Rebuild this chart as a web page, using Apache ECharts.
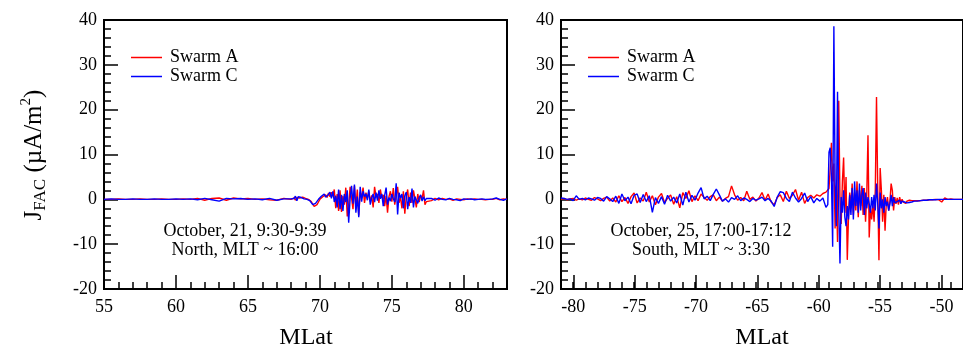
<!DOCTYPE html>
<html><head><meta charset="utf-8">
<script src="https://cdn.jsdelivr.net/npm/echarts@6/dist/echarts.min.js"></script>
<style>html,body{margin:0;padding:0;background:#fff}#c{width:963px;height:347px}</style>
</head><body><div id="c"></div>
<script>
// ---- North pass (October 21) ----
const northLat = [
 55,55.5,56,56.5,57,57.5,58,58.5,59,59.5,60,60.5,61,61.5,62,62.5,63,63.5,64,64.5,65,65.5,66,66.5,67,67.5,68,
 68.1,68.2,68.3,68.4,68.5,68.6,68.7,68.8,68.9,69.0,
 69.1,69.2,69.3,69.4,69.5,69.6,69.7,69.8,69.9,70.0,
 70.1,70.2,70.3,70.4,70.5,70.6,70.7,70.8,70.9,71.0,
 71.1,71.2,71.3,71.4,71.5,71.6,71.7,71.8,71.9,72.0,
 72.1,72.2,72.3,72.4,72.5,72.6,72.7,72.8,72.9,73.0,
 73.1,73.2,73.3,73.4,73.5,73.6,73.7,73.8,73.9,74.0,
 74.1,74.2,74.3,74.4,74.5,74.6,74.7,74.8,74.9,75.0,
 75.1,75.2,75.3,75.4,75.5,75.6,75.7,75.8,75.9,76.0,
 76.1,76.2,76.3,76.4,76.5,76.6,76.7,76.8,76.9,77.0,
 77.1,77.2,77.3,77.4,77.5,
 77.75,78,78.25,78.5,78.75,79,79.25,79.5,79.75,80,80.25,80.5,80.75,81,81.25,81.5,81.75,82,82.25,82.5,82.75,83
];
const northA = [
 0,0,0.1,0,0,0.1,0,0,0.1,0,0,0.1,0,0.2,-0.2,0.2,0.3,-0.2,0.3,0.1,0.2,0,0.1,-0.1,-0.2,0.2,0,
 0.1,0.3,-0.2,0.4,0.1,0.3,0.2,0.5,0.3,0.2,
 0.1,0,-0.2,-0.5,-0.9,-1.6,-1.9,-1.2,-0.6,0,
 0.3,0.6,0.8,1.0,0.4,1.4,0.6,1.6,0.7,2.2,
 -2.0,1.2,-2.6,2.0,-2.8,0.8,-1.2,2.6,-3.8,-1.2,
 2.8,0.3,-2.2,3.0,-1.8,2.2,-3.6,1.6,0.4,2.6,
 -0.8,1.5,0.2,1.8,-0.5,0.9,-1.8,2.8,0.5,1.2,
 -0.8,2.2,0.3,1.0,-1.5,0.8,-3.0,0.6,1.8,-0.5,
 2.5,-1.2,0.8,2.8,-0.8,0.5,-2.0,1.8,-3.2,0.6,
 2.2,-1.5,1.5,-0.8,2.0,0.2,-1.8,1.2,-0.6,0.8,
 0.2,2.0,-1.2,-0.5,-0.2,
 -0.3,0.2,-0.1,0.2,0,0.1,-0.2,0.1,0,-0.1,0.1,0,0.1,0,0,-0.1,0,0,0.2,-0.1,0.1,0
];
const northC = [
 0,0.1,0,0,0.1,0,0,0.1,0,0,0.1,0,0.1,-0.1,0.2,-0.1,-0.4,0.2,0.1,0.2,0,0.1,-0.1,0.2,-0.2,0.1,0.1,
 0,0.2,0.7,-0.3,0.6,0.2,0.4,0.3,0.1,0.3,
 0,-0.1,-0.3,-0.6,-1.2,-1.3,-0.9,-0.5,0,0.4,
 0.7,0.9,1.2,0.5,0.8,1.1,1.6,0.2,1.8,-0.6,
 0.8,-1.8,2.2,-2.2,1.0,-2.6,1.2,-0.6,2.0,-5.2,
 0.2,3.0,-1.0,3.3,-3.0,0.6,-4.0,2.8,-0.5,1.8,
 0.6,1.2,-0.2,2.2,-1.2,0.3,1.2,-0.6,1.5,-0.3,
 2.0,0.1,1.2,-1.5,0.9,2.6,-1.2,0.4,-0.4,1.2,
 0.2,-0.6,3.6,-3.4,1.5,0.3,1.2,-2.0,0.8,1.6,
 -2.2,0.5,-0.8,2.4,-1.8,0.6,1.0,-0.9,0.4,1.0,
 -0.4,0.6,-0.3,0.2,0,
 0.2,-0.2,0.3,0,-0.1,0.2,0,-0.1,-0.3,0.1,0,0.1,-0.1,0,0.1,0,0,0.1,0.3,0,-0.2,0.1
];

// ---- South pass (October 25) ----
const southLat = [
 -81,-80.75,-80.5,-80.25,-80,-79.75,-79.5,-79.25,
 -79,-78.75,-78.5,-78.25,-78,-77.75,-77.5,-77.25,
 -77,-76.75,-76.5,-76.25,-76,-75.75,-75.5,-75.25,
 -75,-74.75,-74.5,-74.25,-74,-73.75,-73.5,-73.25,
 -73,-72.75,-72.5,-72.25,-72,-71.75,-71.5,-71.25,
 -71,-70.75,-70.5,-70.25,-70,-69.75,-69.5,-69.25,
 -69,-68.75,-68.5,-68.25,-68,-67.75,-67.5,-67.25,
 -67,-66.75,-66.5,-66.25,-66,-65.75,-65.5,-65.25,
 -65,-64.75,-64.5,-64.25,-64,-63.75,-63.5,-63.25,
 -63,-62.75,-62.5,-62.25,-62,-61.75,-61.5,-61.25,
 -61,-60.75,-60.5,-60.25,-60,-59.75,-59.5,-59.25,
 -59.1,-59.0,-58.9,-58.8,-58.7,-58.6,-58.5,-58.4,-58.3,-58.2,
 -58.1,-58.0,-57.9,-57.8,-57.7,-57.6,-57.5,-57.4,-57.3,-57.2,
 -57.1,-57.0,-56.9,-56.8,-56.7,-56.6,-56.5,-56.4,-56.3,-56.2,
 -56.1,-56.0,-55.9,-55.8,-55.7,-55.6,-55.5,-55.4,-55.3,-55.2,
 -55.1,-55.0,-54.9,-54.8,-54.7,-54.6,-54.5,-54.4,-54.3,-54.2,
 -54.1,-54.0,-53.9,-53.8,-53.7,-53.6,-53.5,-53.4,-53.3,-53.2,
 -53.1,-53.0,-52.9,-52.8,-52.7,-52.6,-52.5,-52.4,-52.3,-52.2,
 -52.1,-52.0,
 -51.75,-51.5,-51.25,-51,-50.75,-50.5,-50.25,-50,-49.75,-49.5,-49.25,-49,-48.75,-48.5,-48.25,-48
];
const southA = [
 0,0.2,-0.1,0.1,0.2,-0.2,0.1,-0.1,
 0.3,0,-0.2,0.4,0.1,-0.3,0.2,0.5,
 -0.4,0.3,-0.6,0.8,-0.5,0.4,-0.9,0.6,
 1.4,-0.8,0.3,-0.4,1.6,-0.6,0.8,-1.2,
 0.5,1.3,-0.7,0.2,1.0,-1.1,0.6,-1.9,
 1.5,0.2,1.9,-0.5,0.8,-0.3,1.2,0.4,
 -0.2,0.6,1.0,-0.3,0.5,-0.4,0.2,0.6,
 3.0,1.0,-0.2,0.4,-0.3,1.8,0,0.5,
 -0.4,0.3,1.5,-0.2,1.2,-0.6,-1.2,0.4,
 1.0,-0.5,1.8,0.2,0.9,2.2,-0.2,1.6,
 -0.9,0.4,0.9,0.3,1.0,0.7,1.3,1.6,
 1.8,2.4,7,12.6,4,8,-6.5,3,-9.5,22,
 0.5,-5.5,4,9.3,-3,5,-13.5,-4,1.5,-2,
 3.5,-3.5,1.5,-2.5,4,-4,2,-1.5,3,-3.5,
 2.5,-5,1,14.3,-8.5,-2,-4.5,-1,-5,2,
 22.8,2,-13.6,7,2,-5,1,-7,-1,0.5,
 -2.5,-0.5,3.5,2,-2.5,0.5,-1,0.3,-1.2,0.5,
 -0.8,0,-0.6,-0.2,-0.9,-0.4,-0.7,-0.2,-0.6,-0.3,
 -0.5,-0.3,
 -0.3,-0.3,-0.2,-0.2,-0.1,-0.1,0,-0.1,-0.6,0.3,0,0.1,0,0,0,0
];
const southC = [
 0.3,0.2,0,0.1,-0.3,0.8,0,0.2,
 -0.1,0.3,0.1,-0.2,0.4,0.2,-0.4,0.6,
 0.1,-0.5,0.7,-0.9,1.2,-0.3,0.5,-1.0,
 0.9,1.2,-0.7,1.1,-0.5,0.8,-2.9,0.4,
 -0.9,0.6,-1.1,0.9,-0.4,0.5,-0.8,1.2,
 -1.3,1.6,-0.6,0.9,-0.2,1.4,2.6,0.1,
 0.7,-0.3,1.1,2.3,1.0,-0.4,0.1,-0.6,
 0.4,0,0.8,-0.3,0.3,0,-0.5,0.2,
 -0.2,0.1,0.5,-0.3,0.2,-0.4,-1.6,0.5,
 1.7,1.5,0.2,-0.5,1.6,0.3,-0.6,0.2,
 1.4,-0.5,0.6,-0.8,0.2,-0.4,0.3,-1.8,
 -1.2,10.5,11.5,5,-10.6,38.6,4,-6,24,-2,
 -14.3,0.5,-3,2,-4,-6,-1.5,-4.5,1,-3.5,
 2.5,-4.5,4,-1.5,2,-3,3.5,-2.5,1,2.5,
 -3.5,1.5,-2,0.5,-1,-3,0.5,-2,1,-2.5,
 3.5,-1,-6.5,1.5,-2,0,-3,0.5,-1.5,-0.5,
 -2.5,-1,1,-1.5,0.5,-0.8,-1.2,-0.5,-0.9,-0.2,
 -1,-0.4,-0.8,-0.6,-0.3,-0.8,-0.5,-0.7,-0.4,-0.6,
 -0.5,-0.4,
 -0.4,-0.3,-0.2,-0.2,-0.1,-0.1,-0.1,0,0,0,0,0,0,0,0,0
];

const northRange = [55, 83];
const southRange = [-81, -48];
const southTickRange = [-80, -50];   // first / last labelled tick of the south axis
const seriesNames = ['Swarm A','Swarm C'];
const northText = ['October, 21, 9:30-9:39','North, MLT ~ 16:00'];
const southText = ['October, 25, 17:00-17:12','South, MLT ~ 3:30'];

const FF = '"Liberation Serif", "Times New Roman", serif';
const RED = '#ff0000', BLUE = '#0000ff';
const zip = (xs, ys) => xs.map((x, i) => [x, ys[i]]);

// panel geometry
const P = {top:20, height:269, nLeft:104, nWidth:403, sLeft:561, sWidth:405};
// overlay grid for the south major ticks, aligned to the same scale
const sPx = P.sWidth / (southRange[1] - southRange[0]);
const sTickLeft = P.sLeft + (southTickRange[0] - southRange[0]) * sPx;
const sTickWidth = (southTickRange[1] - southTickRange[0]) * sPx;

const TICK = {color:'#000', width:1.5};
function baseX(grid, min, max) {
  return {type:'value', gridIndex:grid, min:min, max:max, position:'bottom',
    axisLine:{show:true, onZero:false, lineStyle:{color:'#000', width:2}},
    axisTick:{show:false}, axisLabel:{show:false}, splitLine:{show:false}};
}
function tickX(grid, min, max, interval, len, labels) {
  return {type:'value', gridIndex:grid, min:min, max:max, interval:interval, position:'bottom',
    axisLine:{show:false, onZero:false},
    axisTick:{show:true, inside:true, length:len, lineStyle:TICK},
    axisLabel:{show:labels, showMaxLabel:labels && (max % interval === 0), margin:9, color:'#000', fontSize:18, fontFamily:FF},
    splitLine:{show:false}};
}
function majorY(grid) {
  return {type:'value', gridIndex:grid, min:-20, max:40, interval:10, position:'left',
    axisLine:{show:true, onZero:false, lineStyle:{color:'#000', width:2}},
    axisTick:{show:true, inside:true, length:14, lineStyle:TICK},
    minorTick:{show:true, splitNumber:5, length:7, lineStyle:TICK},
    axisLabel:{show:true, margin:7, color:'#000', fontSize:18, fontFamily:FF},
    splitLine:{show:false}, minorSplitLine:{show:false}};
}
function hiddenY(grid) {
  return {type:'value', gridIndex:grid, min:-20, max:40, show:false, splitLine:{show:false}};
}
function line(name, color, xi, yi, data, z) {
  return {type:'line', name:name, xAxisIndex:xi, yAxisIndex:yi, data:data, symbol:'none',
    showSymbol:false, color:color, lineStyle:{color:color, width:1.4}, z:z, animation:false};
}
function legendAt(left) {
  return {left:left, top:48, orient:'vertical', icon:'rect', itemWidth:31, itemHeight:1.5,
    itemGap:0, padding:0, selectedMode:false, data:seriesNames,
    textStyle:{fontFamily:FF, fontSize:18, color:'#000', lineHeight:19, padding:[0,0,0,3]}};
}
function txt(x, y, s, size) {
  return {type:'text', x:x, y:y, silent:true,
    style:{text:s, fill:'#000', fontSize:size, fontFamily:FF, align:'center', verticalAlign:'middle',
      textAlign:'center', textVerticalAlign:'middle'}};
}
function g(left, width, extra) {
  return Object.assign({left:left, top:P.top, width:width, height:P.height, show:false}, extra || {});
}

const chart = echarts.init(document.getElementById('c'), null, {renderer:'canvas'});
chart.setOption({
  animation:false,
  backgroundColor:'#fff',
  grid:[
    g(P.nLeft, P.nWidth, {show:true, borderColor:'#000', borderWidth:2, backgroundColor:'transparent'}),
    g(P.sLeft, P.sWidth, {show:true, borderColor:'#000', borderWidth:2, backgroundColor:'transparent'}),
    g(P.nLeft, P.nWidth),          // north minor ticks
    g(P.sLeft, P.sWidth),          // south minor ticks
    g(P.nLeft, P.nWidth),          // north major ticks + labels
    g(sTickLeft, sTickWidth)       // south major ticks + labels
  ],
  xAxis:[
    baseX(0, northRange[0], northRange[1]),
    baseX(1, southRange[0], southRange[1]),
    tickX(2, northRange[0], northRange[1], 1, 7, false),
    tickX(3, southRange[0], southRange[1], 1, 7, false),
    tickX(4, northRange[0], northRange[1], 5, 14, true),
    tickX(5, southTickRange[0], southTickRange[1], 5, 14, true)
  ],
  yAxis:[majorY(0), majorY(1), hiddenY(2), hiddenY(3), hiddenY(4), hiddenY(5)],
  legend:[legendAt(131), legendAt(588)],
  series:[
    line(seriesNames[0], RED, 0, 0, zip(northLat, northA), 2),
    line(seriesNames[1], BLUE, 0, 0, zip(northLat, northC), 3),
    line(seriesNames[0], RED, 1, 1, zip(southLat, southA), 2),
    line(seriesNames[1], BLUE, 1, 1, zip(southLat, southC), 3)
  ],
  graphic:[
    txt(245, 231, northText[0], 18),
    txt(245, 250, northText[1], 18),
    txt(701, 231, southText[0], 18),
    txt(701, 250, southText[1], 18),
    txt(306, 338, 'MLat', 24),
    txt(762, 338, 'MLat', 24),
    {type:'text', x:34, y:155, rotation:Math.PI/2, silent:true,
      style:{text:'{a|J}{s|FAC}{a| (µA/m}{p|2}{a|)}', align:'center', verticalAlign:'middle',
        textAlign:'center', textVerticalAlign:'middle', fill:'#000', fontFamily:FF, fontSize:25,
        rich:{
          a:{fontSize:25, fontFamily:FF, fill:'#000', color:'#000', lineHeight:30},
          s:{fontSize:17, fontFamily:FF, fill:'#000', color:'#000', lineHeight:16, verticalAlign:'bottom'},
          p:{fontSize:15, fontFamily:FF, fill:'#000', color:'#000', lineHeight:14, verticalAlign:'top'}
        }}}
  ]
});
</script></body></html>
